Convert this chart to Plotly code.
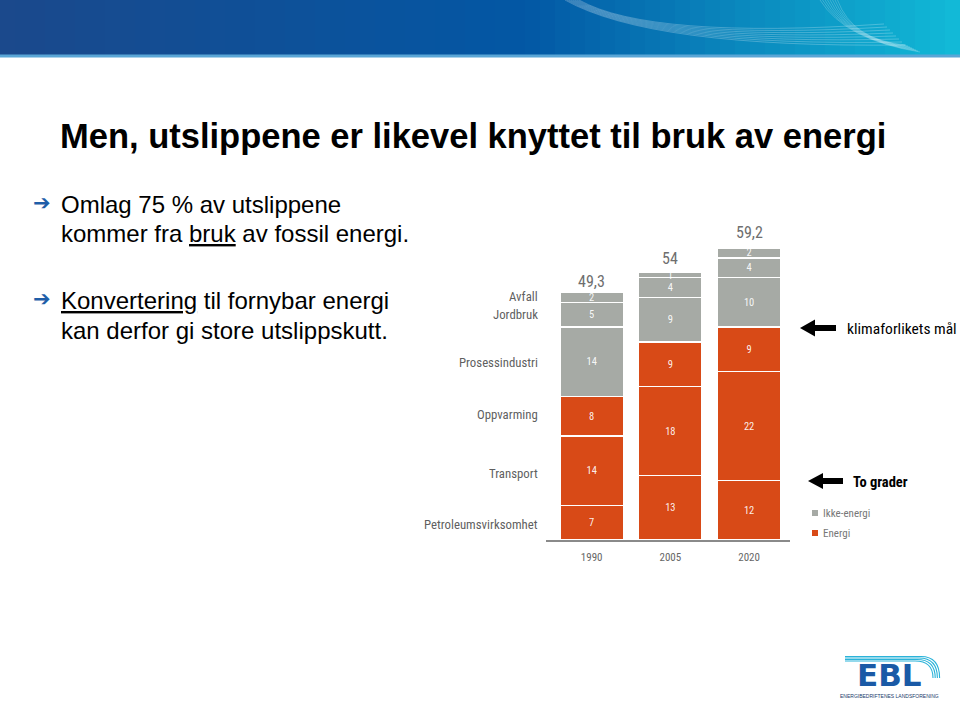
import plotly.graph_objects as go

W, H = 960, 702

def px(x):
    return x / W

def py(y):
    return 1 - y / H

# ---------------- data ----------------
years = ["1990", "2005", "2020"]
totals = [49.3, 54, 59.2]
total_labels = ["49,3", "54", "59,2"]

# stacked layers, bottom -> top
layer1 = [7, 13, 12]
layer2 = [14, 18, 22]
layer3 = [8, 9, 9]
layer4 = [14, 9, 10]
layer5 = [5, 4, 4]
layer6 = [2, 1, 2]
layers = [layer1, layer2, layer3, layer4, layer5, layer6]

# energy type of each segment per year ("E" = Energi, "I" = Ikke-energi)
layer_types = [
    ["E", "E", "E"],
    ["E", "E", "E"],
    ["E", "E", "E"],
    ["I", "I", "I"],
    ["I", "I", "I"],
    ["I", "I", "I"],
]

sector_labels = ["Avfall", "Jordbruk", "Prosessindustri", "Oppvarming", "Transport", "Petroleumsvirksomhet"]
legend_labels = ["Ikke-energi", "Energi"]

title = "Men, utslippene er likevel knyttet til bruk av energi"
bullet_lines = [
    ["Omlag 75 % av utslippene", "kommer fra <u>bruk</u> av fossil energi."],
    ["<u>Konvertering</u> til fornybar energi", "kan derfor gi store utslippskutt."],
]

ORANGE = "#d84a17"
GREY = "#a6aaa5"
COLORS = {"E": ORANGE, "I": GREY}
NARROW = "Liberation Sans Narrow, Arial Narrow, Roboto Condensed, Liberation Sans, sans-serif"
ARIAL = "Liberation Sans, Arial, sans-serif"

fig = go.Figure()
xpos = list(range(len(years)))
for vals, types in zip(layers, layer_types):
    fig.add_trace(go.Bar(
        x=xpos, y=vals,
        marker=dict(color=[COLORS[t] for t in types], line=dict(color="white", width=1.5)),
        text=[str(v) for v in vals],
        textposition="inside",
        insidetextanchor="middle",
        textangle=0,
        textfont=dict(color="rgba(255,255,255,0.92)", size=10.5, family=NARROW),
        hoverinfo="skip",
        showlegend=False,
    ))

# totals above bars
for i, (t, lab) in enumerate(zip(totals, total_labels)):
    fig.add_annotation(x=xpos[i], y=t, text=lab, showarrow=False, xref="x", yref="y",
                       yanchor="bottom", yshift=3,
                       font=dict(size=16, color="#6e6e6e", family=NARROW))

# ---------------- shapes / decorations ----------------
shapes = []
# banner gradient
c0 = (27, 73, 140)
c1 = (3, 88, 165)
c2 = (18, 185, 215)
N = 64
for k in range(N):
    f = k / (N - 1)
    if f < 0.55:
        g = f / 0.55
        c = tuple(int(c0[j] + (c1[j] - c0[j]) * g) for j in range(3))
    else:
        g = (f - 0.55) / 0.45
        c = tuple(int(c1[j] + (c2[j] - c1[j]) * g) for j in range(3))
    shapes.append(dict(type="rect", xref="paper", yref="paper",
                       x0=px(k * W / N), x1=px((k + 1) * W / N + 1), y0=py(55), y1=py(0),
                       fillcolor="rgb(%d,%d,%d)" % c, line=dict(width=0), layer="below"))
shapes.append(dict(type="rect", xref="paper", yref="paper", x0=0, x1=1, y0=py(57.5), y1=py(54.5),
                   fillcolor="#5aa6d6", line=dict(width=0), layer="below"))
# faint white curves in banner
for k in range(8):
    shapes.append(dict(type="path", xref="paper", yref="paper",
                       path="M %f %f Q %f %f %f %f" % (px(565 + k * 2), py(0), px(650), py(48 - k * 1.2), px(905 - k * 3), py(45 - k * 3)),
                       line=dict(color="rgba(255,255,255,0.35)", width=0.7)))
    shapes.append(dict(type="path", xref="paper", yref="paper",
                       path="M %f %f Q %f %f %f %f" % (px(820 + k * 2.5), py(0), px(845 + k), py(40), px(920 - k * 2), py(52 - k)),
                       line=dict(color="rgba(255,255,255,0.3)", width=0.7)))

def arrow_path(tip_x, cy, length, head_len, head_h, shaft_h):
    pts = [
        (tip_x, cy),
        (tip_x + head_len, cy - head_h / 2),
        (tip_x + head_len, cy - shaft_h / 2),
        (tip_x + length, cy - shaft_h / 2),
        (tip_x + length, cy + shaft_h / 2),
        (tip_x + head_len, cy + shaft_h / 2),
        (tip_x + head_len, cy + head_h / 2),
    ]
    return "M " + " L ".join("%f %f" % (px(a), py(b)) for a, b in pts) + " Z"

shapes.append(dict(type="path", xref="paper", yref="paper", path=arrow_path(800, 328, 36, 15, 17, 6),
                   fillcolor="black", line=dict(width=0)))
shapes.append(dict(type="path", xref="paper", yref="paper", path=arrow_path(808, 481, 35, 15, 16, 6),
                   fillcolor="black", line=dict(width=0)))
# legend squares
shapes.append(dict(type="rect", xref="paper", yref="paper", x0=px(812), x1=px(818), y0=py(516), y1=py(510),
                   fillcolor=GREY, line=dict(width=0)))
shapes.append(dict(type="rect", xref="paper", yref="paper", x0=px(812), x1=px(818), y0=py(536), y1=py(530),
                   fillcolor=ORANGE, line=dict(width=0)))
# logo arcs
for k in range(4):
    shapes.append(dict(type="path", xref="paper", yref="paper",
                       path="M %f %f L %f %f Q %f %f %f %f" % (px(845), py(661 - k * 1.5), px(915 + k * 2), py(661 - k * 1.5),
                                                               px(933 + k * 2.2), py(661 - k * 1.5), px(933 + k * 2.2), py(678)),
                       line=dict(color="#2bb3d9", width=1.1)))

# ---------------- text annotations ----------------
ann = []
ann.append(dict(x=px(58), y=py(136), xref="paper", yref="paper", text="<b>%s</b>" % title, showarrow=False,
                xanchor="left", yanchor="middle", font=dict(size=34.5, color="black", family=ARIAL)))
line_y = [[204, 233], [300, 330]]
for lines, ys in zip(bullet_lines, line_y):
    for txt, ly in zip(lines, ys):
        ann.append(dict(x=px(59), y=py(ly), xref="paper", yref="paper", text=txt, showarrow=False,
                        xanchor="left", yanchor="middle", align="left",
                        font=dict(size=24, color="black", family=ARIAL)))
    ann.append(dict(x=px(31), y=py(ys[0] - 1), xref="paper", yref="paper", text="➔", showarrow=False,
                    xanchor="left", yanchor="middle", font=dict(size=21, color="#1f5ea8", family="DejaVu Sans")))

sector_y = [296, 314, 362, 414, 473, 524]
for lab, sy in zip(sector_labels, sector_y):
    ann.append(dict(x=px(540), y=py(sy), xref="paper", yref="paper", text=lab, showarrow=False,
                    xanchor="right", yanchor="middle", font=dict(size=12.8, color="#5f5f5f", family=NARROW)))

ann.append(dict(x=px(845), y=py(329), xref="paper", yref="paper", text="klimaforlikets mål", showarrow=False,
                xanchor="left", yanchor="middle", font=dict(size=15.5, color="black", family=NARROW)))
ann.append(dict(x=px(851), y=py(482), xref="paper", yref="paper", text="<b>To grader</b>", showarrow=False,
                xanchor="left", yanchor="middle", font=dict(size=14.5, color="black", family=NARROW)))
for lab, ly in zip(legend_labels, [513, 533]):
    ann.append(dict(x=px(821), y=py(ly), xref="paper", yref="paper", text=lab, showarrow=False,
                    xanchor="left", yanchor="middle", font=dict(size=11, color="#777777", family=NARROW)))

# logo
ann.append(dict(x=px(889), y=py(675), xref="paper", yref="paper", text="<b>EBL</b>", showarrow=False,
                xanchor="center", yanchor="middle", font=dict(size=31, color="#1a5aa6", family="DejaVu Sans")))
ann.append(dict(x=px(889), y=py(696), xref="paper", yref="paper", text="ENERGIBEDRIFTENES LANDSFORENING", showarrow=False,
                xanchor="center", yanchor="middle", font=dict(size=5, color="#1a3a6a", family=ARIAL)))

fig.update_layout(
    width=W, height=H,
    margin=dict(l=0, r=0, t=0, b=0),
    paper_bgcolor="white", plot_bgcolor="white",
    barmode="stack", bargap=0.19,
    uniformtext=dict(minsize=10.5, mode="show"),
    shapes=shapes,
    showlegend=False,
    xaxis=dict(domain=[px(546), px(790)], range=[-0.58, 2.52], tickvals=xpos, ticktext=years,
               showline=True, linecolor="#8a8a8a", linewidth=1.5, showgrid=False, zeroline=False,
               ticks="", ticklabelstandoff=6,
               tickfont=dict(size=11, color="#666666", family=NARROW), fixedrange=True),
    yaxis=dict(domain=[py(540), py(540 - 70 * 4.95)], range=[0, 70], visible=False, fixedrange=True),
)
fig.update_layout(annotations=list(fig.layout.annotations) + ann)

fig.write_html("out.html")
